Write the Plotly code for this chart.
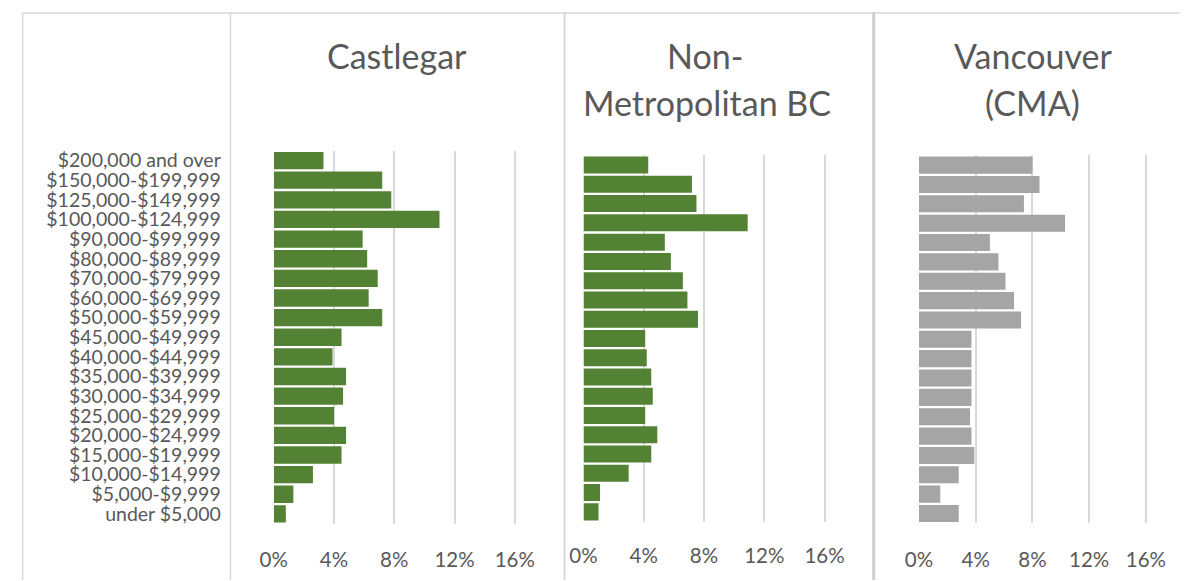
import plotly.graph_objects as go

# Page body has an 8px default margin; the figure is sized so that
# reference pixel coordinates (1197x581 window) map onto it exactly.
OX, OY = 8, 8
W, H = 1197 - OX, 581 - OY

categories = ["$200,000 and over", "$150,000-$199,999", "$125,000-$149,999",
              "$100,000-$124,999", "$90,000-$99,999", "$80,000-$89,999",
              "$70,000-$79,999", "$60,000-$69,999", "$50,000-$59,999",
              "$45,000-$49,999", "$40,000-$44,999", "$35,000-$39,999",
              "$30,000-$34,999", "$25,000-$29,999", "$20,000-$24,999",
              "$15,000-$19,999", "$10,000-$14,999", "$5,000-$9,999",
              "under $5,000"]

castlegar = [3.3, 7.2, 7.8, 11.0, 5.9, 6.2, 6.9, 6.3, 7.2, 4.5,
             3.9, 4.8, 4.6, 4.0, 4.8, 4.5, 2.6, 1.3, 0.8]
non_metro_bc = [4.3, 7.2, 7.5, 10.9, 5.4, 5.8, 6.6, 6.9, 7.6, 4.1,
                4.2, 4.5, 4.6, 4.1, 4.9, 4.5, 3.0, 1.1, 1.0]
vancouver = [8.0, 8.5, 7.4, 10.3, 5.0, 5.6, 6.1, 6.7, 7.2, 3.7,
             3.7, 3.7, 3.7, 3.6, 3.7, 3.9, 2.8, 1.5, 2.8]

tick_vals = [0, 4, 8, 12, 16]
tick_text = ["0%", "4%", "8%", "12%", "16%"]

GREEN = "#548235"
GREY_BAR = "#A5A5A5"
TEXT = "#595959"
GRID = "#D9D9D9"
FONT = "Lato"

RMAX = 16.2

def px_x(x):
    return (x - OX) / W

def px_y(y):
    return 1 - (y - OY) / H

def xdom(x0, x16):
    ppu = (x16 - x0) / 16.0
    return [px_x(x0), px_x(x0 + RMAX * ppu)]

def ydom(top, bottom):
    return [px_y(bottom), px_y(top)]

panels = [
    dict(vals=castlegar, color=GREEN, xd=xdom(266.5, 514.0), yd=ydom(149.5, 524.4), tickshift=18),
    dict(vals=non_metro_bc, color=GREEN, xd=xdom(584.5, 832.0), yd=ydom(154.2, 522.2), tickshift=16),
    dict(vals=vancouver, color=GREY_BAR, xd=xdom(929.0, 1162.0), yd=ydom(154.2, 523.9), tickshift=18),
]

fig = go.Figure()
layout = dict(
    width=W, height=H,
    margin=dict(l=0, r=0, t=0, b=0),
    paper_bgcolor="white", plot_bgcolor="white",
    showlegend=False,
    bargap=0.117,
    font=dict(family=FONT, color=TEXT),
)

for i, p in enumerate(panels):
    n = "" if i == 0 else str(i + 1)
    fig.add_trace(go.Bar(
        x=p["vals"], y=categories, orientation="h",
        marker=dict(color=p["color"], line=dict(width=0)),
        xaxis="x" + n, yaxis="y" + n,
        hoverinfo="x+y",
    ))
    layout["xaxis" + n] = dict(
        domain=p["xd"], range=[0, RMAX], anchor="y" + n,
        tickmode="array", tickvals=tick_vals, ticktext=tick_text,
        showgrid=True, gridcolor=GRID, gridwidth=1.5,
        zeroline=False, showline=False,
        ticks="outside", ticklen=p["tickshift"], tickcolor="rgba(0,0,0,0)",
        tickfont=dict(family=FONT, size=20.5, color=TEXT),
        fixedrange=True,
    )
    layout["yaxis" + n] = dict(
        domain=p["yd"], anchor="x" + n,
        type="category", autorange="reversed",
        tickmode="array", tickvals=categories, ticktext=categories,
        showgrid=False, zeroline=False, showline=False,
        showticklabels=(i == 0),
        ticks="", ticklabelstandoff=52 if i == 0 else 0,
        tickfont=dict(family=FONT, size=19.5, color=TEXT),
        fixedrange=True,
    )

fig.update_layout(**layout)

# Titles
titles = [
    ("Castlegar", 393, 54),
    ("Non-", 709, 54),
    ("Metropolitan BC", 711, 101),
    ("Vancouver", 1047, 54),
    ("(CMA)", 1046, 101),
]
for txt, x, y in titles:
    fig.add_annotation(
        text=txt, x=px_x(x), y=px_y(y), xref="paper", yref="paper",
        xanchor="center", yanchor="middle", showarrow=False,
        font=dict(family=FONT, size=34, color=TEXT),
    )

# Frame lines (separate chart boxes)
def vline(x, y0, y1, w, c=GRID):
    fig.add_shape(type="line", xref="paper", yref="paper",
                  x0=px_x(x), x1=px_x(x), y0=px_y(y0), y1=px_y(y1),
                  line=dict(color=c, width=w))

def hline(y, x0, x1, w, c=GRID):
    fig.add_shape(type="line", xref="paper", yref="paper",
                  x0=px_x(x0), x1=px_x(x1), y0=px_y(y), y1=px_y(y),
                  line=dict(color=c, width=w))

hline(11, 8, 1197, 1.5)
vline(8.7, 11, 581, 1.5)
vline(222, 10, 581, 1.5)
vline(565, 10, 581, 2)
vline(882.5, 10, 581, 3, "#D0D0D0")

fig.write_html("out.html")
